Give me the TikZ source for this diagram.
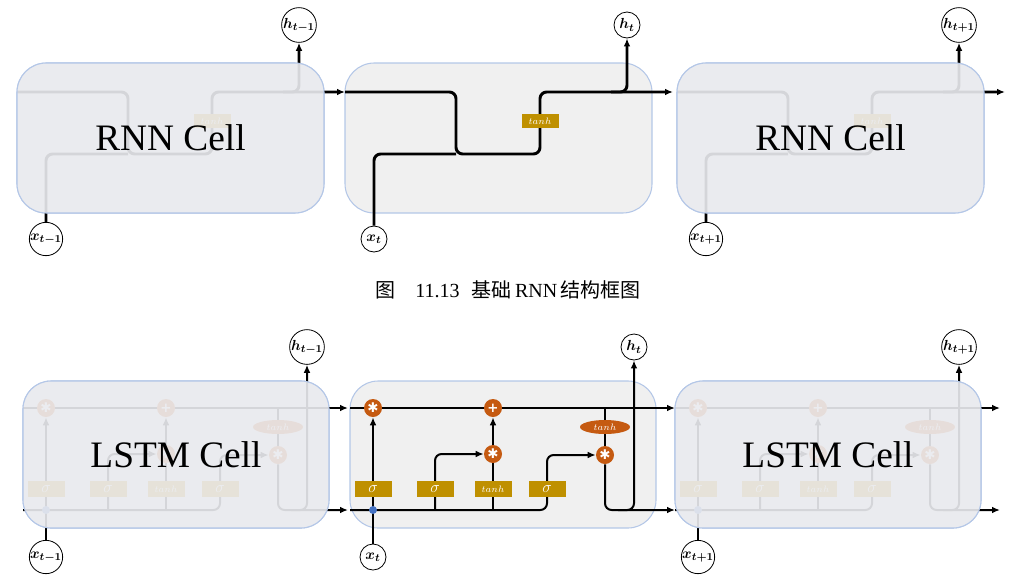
\documentclass[tikz,border=0pt]{standalone}
\usepackage{fontspec}
\usepackage{amsmath,amssymb}
\setmainfont{Liberation Serif}
\newfontfamily\cjk{Noto Sans CJK SC}
\newfontfamily\dejavu{DejaVu Sans}
\usetikzlibrary{arrows.meta,shapes.geometric}

\definecolor{cellfill}{HTML}{F0F0F0}
\definecolor{cellline}{HTML}{B4C7E7}
\definecolor{fadefill}{HTML}{EAEBEF}
\definecolor{gold}{HTML}{BF9000}
\definecolor{rust}{HTML}{C55A11}
\definecolor{dotblue}{HTML}{4472C4}

\pgfdeclarelayer{bg}
\pgfdeclarelayer{wires}
\pgfdeclarelayer{top}
\pgfsetlayers{bg,wires,main,top}

\tikzset{
  rnncell/.style={draw=cellline, line width=0.8pt, fill=cellfill, rounded corners=22pt,
    minimum width=230.25pt, minimum height=112.5pt, inner sep=0pt},
  lstmcell/.style={rnncell, minimum width=229.5pt, minimum height=110.25pt, rounded corners=21pt},
  fade/.style={fill=fadefill, fill opacity=0.91, text opacity=1, font=\fontsize{28}{30}\selectfont},
  io/.style={circle, draw, line width=0.6pt, fill=white, minimum size=19.5pt, inner sep=0pt,
    font=\fontsize{11}{11}\selectfont},
  gatebox/.style={fill=gold, text=white, inner sep=0pt, minimum width=27.75pt, minimum height=12pt,
    font=\fontsize{12}{12}\selectfont},
  tanhbox/.style={gatebox, minimum height=10.5pt, font=\fontsize{7}{7}\selectfont},
  tanhoval/.style={ellipse, fill=rust, text=white, inner sep=0pt, minimum width=37.5pt,
    minimum height=10.5pt, font=\fontsize{7}{7}\selectfont},
  op/.style={circle, fill=rust, text=white, minimum size=13.5pt, inner sep=0pt,
    font=\dejavu\bfseries\fontsize{10}{10}\selectfont},
  joint/.style={circle, fill=dotblue, minimum size=6pt, inner sep=0pt},
  wire/.style={line width=2.2pt, rounded corners=5pt},
  lwire/.style={line width=1.5pt, rounded corners=5pt},
  >={Latex[length=6pt,width=5pt]}
}

\begin{document}
\begin{tikzpicture}[x=0.75pt,y=-0.75pt]
\useasboundingbox (0,0) rectangle (1034,586);

\foreach \i/\L/\sub in {1/17/{t-1},2/345/t,3/677/{t+1}}{
  \begin{pgfonlayer}{bg}
    \node[rnncell] (c\i) at (\L+153.5,138) {};
  \end{pgfonlayer}
  \node[io] (x\i) at (\L+29,239) {$\boldsymbol{x_{\sub}}$};
  \node[io] (h\i) at (\L+282,25) {$\boldsymbol{h_{\sub}}$};
  \node[tanhbox] (g\i) at (\L+195,121) {$tanh$};
  \begin{pgfonlayer}{wires}
    \draw[wire,->] (\L,92) -| (\L+111,154) -| (g\i.center) |- (\L+328,92);
    \draw[wire] (x\i) |- (\L+111,154);
    \draw[wire,->] (\L+266,92) -| (h\i);
  \end{pgfonlayer}
}

\node[font=\fontsize{15}{15}\selectfont] (cap) at (508,290)
  {{\cjk 图}\hspace{1em}11.13\hspace{0.6em}{\cjk 基础}\,RNN\,{\cjk 结构框图}};

\foreach \i/\L/\sub in {1/23/{t-1},2/350/t,3/675/{t+1}}{
  \begin{pgfonlayer}{bg}
    \node[lstmcell] (k\i) at (\L+153,454.5) {};
  \end{pgfonlayer}
  \node[op] (f\i) at (\L+23,408) {✱};
  \node[op] (p\i) at (\L+143,408) {+};
  \node[op] (m\i) at (\L+143,454) {✱};
  \node[op] (o\i) at (\L+255,455) {✱};
  \node[tanhoval] (e\i) at (\L+255,427) {$tanh$};
  \node[gatebox] (sa\i) at (\L+23,489) {$\sigma$};
  \node[gatebox] (sb\i) at (\L+85,489) {$\sigma$};
  \node[gatebox,font=\fontsize{7}{7}\selectfont] (g\i) at (\L+143,489) {$tanh$};
  \node[gatebox] (sc\i) at (\L+197,489) {$\sigma$};
  \node[joint] (d\i) at (\L+23,510) {};
  \node[io] (X\i) at (\L+23,557) {$\boldsymbol{x_{\sub}}$};
  \node[io] (H\i) at (\L+284,347) {$\boldsymbol{h_{\sub}}$};
  \begin{pgfonlayer}{wires}
    \draw[lwire,->] (\L,408) -- (\L+325,408);
    \draw[lwire,->] (\L,510) -| (sc\i.center) |- (o\i);
    \draw[lwire,->] (X\i) -- (f\i);
    \draw[lwire,->] (sb\i |- d\i) |- (m\i);
    \draw[lwire] (g\i |- d\i) -- (m\i);
    \draw[lwire,->] (m\i) -- (p\i);
    \draw[lwire] (e\i |- f\i) -- (o\i);
    \draw[lwire,->] (o\i) |- (\L+325,510);
    \draw[lwire,->] (\L+268,510) -| (H\i);
  \end{pgfonlayer}
}

\begin{pgfonlayer}{top}
  \node[rnncell,fade] at (c1) {RNN Cell};
  \node[rnncell,fade] at (c3) {RNN Cell};
  \node[lstmcell,fade] at (k1) {LSTM Cell};
  \node[lstmcell,fade] at (k3) {LSTM Cell};
\end{pgfonlayer}
\end{tikzpicture}
\end{document}
